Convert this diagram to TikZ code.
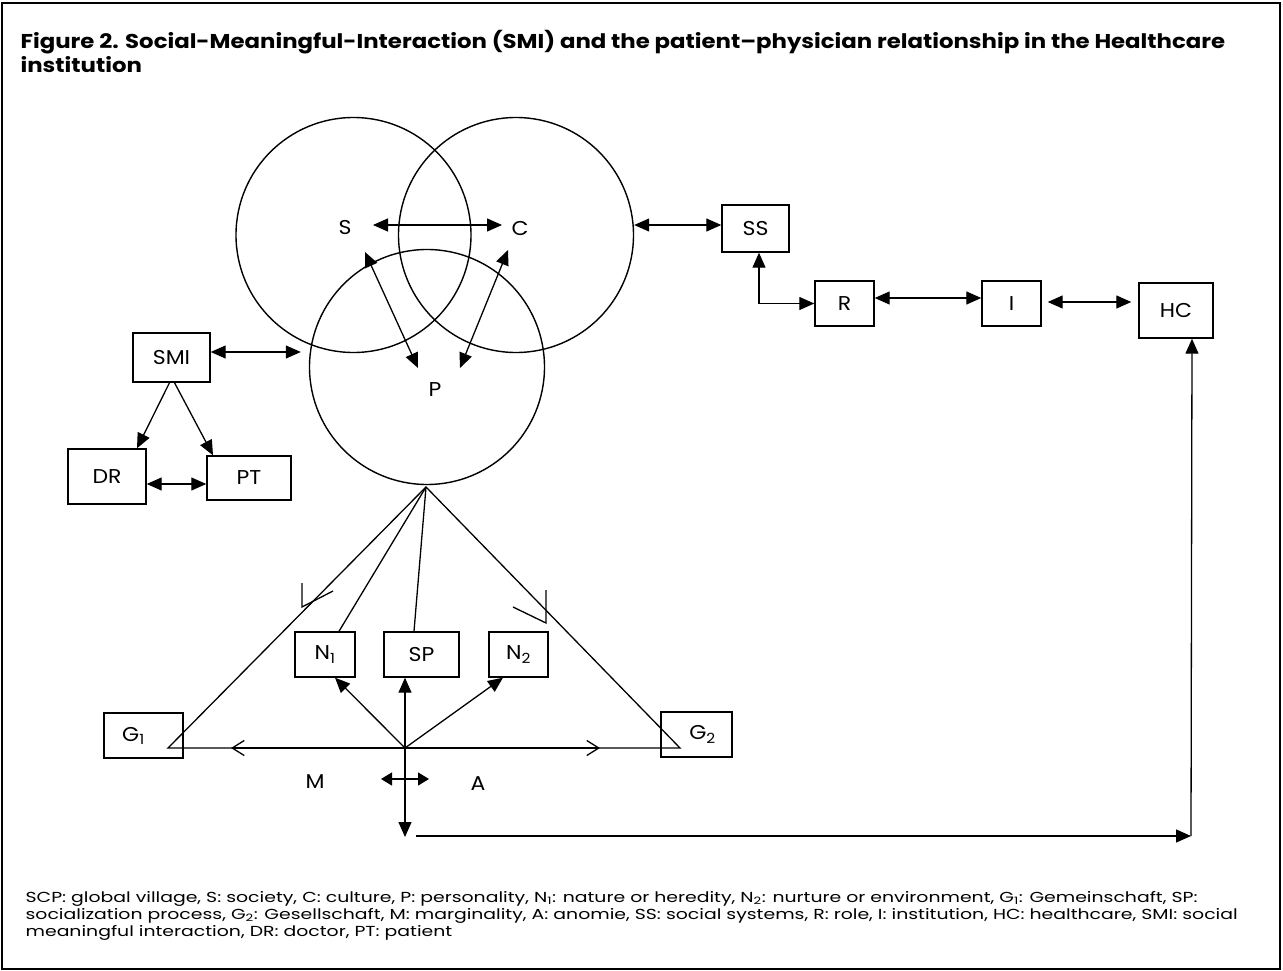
\documentclass[tikz,border=0pt]{standalone}
\usepackage{fontspec}
\setmainfont{Poppins}
\newfontfamily\capfont[FakeStretch=1.3]{Poppins}
\newfontfamily\ttlfont[FakeStretch=1.14]{Poppins}
\newfontfamily\lblfont[FakeStretch=1.1]{Poppins}
\usetikzlibrary{arrows.meta}
\begin{document}
\begin{tikzpicture}[x=1pt,y=-1pt,line width=1.3pt,
  >={Triangle[length=15pt,width=13pt]},
  openarr/.style={-{Straight Barb[length=12pt,width=15pt,line width=1.3pt]}},
  bx/.style={draw,line width=1.4pt,inner sep=0pt,font=\lblfont\fontsize{20}{22}\selectfont},
  circ/.style={draw,circle,minimum size=235pt,inner sep=0pt,line width=1.4pt},
  lbl/.style={inner sep=1pt,font=\lblfont\fontsize{20}{22}\selectfont},
  ttl/.style={anchor=base west,inner sep=0pt,font=\ttlfont\fontsize{20}{24}\selectfont\bfseries},
  captxt/.style={anchor=base west,inner sep=0pt,font=\capfont\fontsize{14.5}{17}\selectfont}]
\useasboundingbox (0,0) rectangle (1283,971);
\draw[line width=2pt] (2,3) rectangle (1280,969);

% title
\node[ttl] (title1) at (20,49)
  {Figure 2. Social-Meaningful-Interaction (SMI) and the patient–physician relationship in the Healthcare};
\node[ttl] (title2) at (20,73) {institution};

% circles
\node[circ] (cS) at (353.5,235) {};
\node[circ] (cC) at (516,235) {};
\node[circ] (cP) at (427,367) {};
\node[lbl] (S) at (345,228) {S};
\node[lbl] (C) at (520,228) {C};
\node[lbl] (P) at (435,390) {P};
\coordinate (sca) at (373,225);
\coordinate (scb) at (502,225);
\draw[<->] (sca) -- (scb);
\coordinate (spa) at (365,252);
\coordinate (spb) at (418,368);
\draw[<->] (spa) -- (spb);
\coordinate (cpa) at (508,250);
\coordinate (cpb) at (460,368);
\draw[<->] (cpa) -- (cpb);

% left boxes
\node[bx,minimum width=77pt,minimum height=49pt] (SMI) at (171.5,357.5) {SMI};
\node[bx,minimum width=78pt,minimum height=55pt] (DR) at (107,476.5) {DR};
\node[bx,minimum width=84pt,minimum height=44pt] (PT) at (249,478) {PT};
\draw[<->,shorten >=8pt] (SMI.east |- 0,352) -- (cP.west |- 0,352);
\draw[->] ([xshift=-2pt]SMI.south) -- ([xshift=30pt]DR.north);
\draw[->] ([xshift=3pt]SMI.south) -- ([xshift=-36pt]PT.north);
\draw[<->] (DR.east |- 0,484) -- (PT.west |- 0,484);

% right chain
\node[bx,minimum width=67pt,minimum height=47pt] (SS) at (755.5,228.5) {SS};
\node[bx,minimum width=59pt,minimum height=45pt] (R) at (844.5,303.5) {R};
\node[bx,minimum width=59pt,minimum height=45pt] (I) at (1011.5,303.5) {I};
\node[bx,minimum width=74pt,minimum height=55pt] (HC) at (1176,310.5) {HC};
\draw[<->] (cC.east |- 0,225) -- (SS.west |- 0,225);
\draw[<->] ([xshift=3.5pt]SS.south) |- (R.west);
\draw[<->] ([yshift=5.5pt]R.east) -- ([yshift=5.5pt]I.west);
\draw[<->,shorten <=6pt,shorten >=7pt] (I.east |- 0,302) -- (HC.west |- 0,302);

% lower structure
\node[bx,minimum width=79pt,minimum height=45pt] (G1) at (143.5,735.5) {G\textsubscript{1}\hspace*{20pt}};
\node[bx,minimum width=71pt,minimum height=45pt] (G2) at (696.5,734.5) {\hspace*{12pt}G\textsubscript{2}};
\node[bx,minimum width=60pt,minimum height=45pt] (N1) at (325,654.5) {N\textsubscript{1}};
\node[bx,minimum width=75pt,minimum height=45pt] (SP) at (421.5,654.5) {SP};
\node[bx,minimum width=59pt,minimum height=45pt] (N2) at (518.5,654.5) {N\textsubscript{2}};
\coordinate (apex) at (426,487);
\coordinate (g1c) at (168,748);
\coordinate (g2c) at (680,748);
\coordinate (O) at (405,748);
\draw (g1c) -- (apex) -- (g2c) -- cycle;
\draw (apex) -- ([xshift=14pt]N1.north);
\draw (apex) -- ([xshift=-7.5pt]SP.north);
\coordinate (ml) at (231,748);
\coordinate (ar) at (600,748);
\draw[openarr] (O) -- (ml);
\draw[openarr] (O) -- (ar);
\draw (302,583) -- (302,607) -- (333,591);
\draw (546,590) -- (546,623) -- (513,607);
\draw[->] (O) -- ([xshift=10pt]N1.south);
\draw[->] (O) -- ([xshift=-16.5pt]SP.south);
\draw[->] (O) -- ([xshift=-15.5pt]N2.south);
\coordinate (Ob) at (405,837);
\draw[->] (O) -- (Ob);
\coordinate (dma) at (381,779);
\coordinate (dmb) at (429,779);
\draw[<->,>={Triangle[length=11pt,width=13pt]}] (dma) -- (dmb);
\node[lbl] (M) at (315,782) {M};
\node[lbl] (A) at (478,784) {A};
\coordinate (ba) at (416,836);
\coordinate (bb) at (1191,836);
\draw[->] (ba) -- (bb);
\draw[->] (bb) -- ([xshift=16pt]HC.south);

% caption
\node[captxt] (cap1) at (25,902)
  {SCP: global village, S: society, C: culture, P: personality, N\textsubscript{1}: nature or heredity, N\textsubscript{2}: nurture or environment, G\textsubscript{1}: Gemeinschaft, SP:};
\node[captxt] (cap2) at (25,919)
  {socialization process, G\textsubscript{2}: Gesellschaft, M: marginality, A: anomie, SS: social systems, R: role, I: institution, HC: healthcare, SMI: social};
\node[captxt] (cap3) at (25,936)
  {meaningful interaction, DR: doctor, PT: patient};
\end{tikzpicture}
\end{document}
